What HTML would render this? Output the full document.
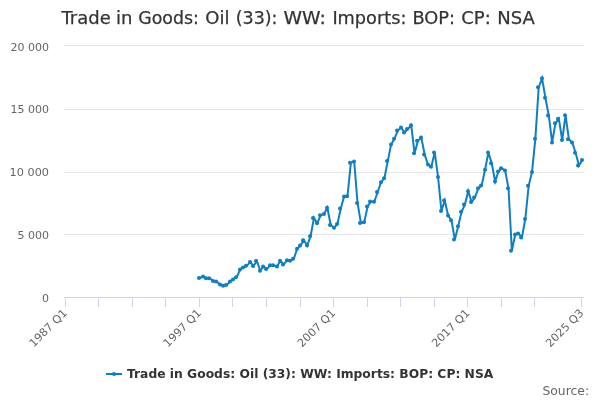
<!DOCTYPE html>
<html><head><meta charset="utf-8"><title>Trade in Goods: Oil (33): WW: Imports: BOP: CP: NSA</title>
<style>
html,body{margin:0;padding:0;background:#fff;}
svg{display:block;font-family:"DejaVu Sans","Liberation Sans",sans-serif;}
</style></head><body>
<svg width="600" height="400" viewBox="0 0 600 400">
<rect x="0" y="0" width="600" height="400" fill="#ffffff"/>
<g stroke="#e6e6e6" stroke-width="1" fill="none"><path d="M64 45.5H584"/><path d="M64 109.5H584"/><path d="M64 172.5H584"/><path d="M64 234.5H584"/></g>
<g stroke="#ccd6eb" stroke-width="1" fill="none"><path d="M64 297.5H584"/><path d="M65.5 297v10M98.5 297v10M132.5 297v10M165.5 297v10M199.5 297v10M232.5 297v10M266.5 297v10M300.5 297v10M333.5 297v10M367.5 297v10M400.5 297v10M434.5 297v10M467.5 297v10M501.5 297v10M534.5 297v10M581.5 297v10"/></g>
<text y="24" font-size="18" fill="#333333" stroke="#333333" stroke-width="0.25"><tspan x="61.50">Trade</tspan> <tspan x="116.10">in</tspan> <tspan x="138.25" textLength="60.6" lengthAdjust="spacingAndGlyphs">Goods:</tspan> <tspan x="205.30">Oil</tspan> <tspan x="235.80" textLength="41.7" lengthAdjust="spacingAndGlyphs">(33):</tspan> <tspan x="283.50" textLength="42.4" lengthAdjust="spacingAndGlyphs">WW:</tspan> <tspan x="332.40" textLength="74.0" lengthAdjust="spacingAndGlyphs">Imports:</tspan> <tspan x="412.40" textLength="42.6" lengthAdjust="spacingAndGlyphs">BOP:</tspan> <tspan x="461.30">CP:</tspan> <tspan x="497.30">NSA</tspan></text>
<g font-size="11" fill="#666666" text-anchor="end">
<text x="49" y="51">20 000</text>
<text x="49" y="113">15 000</text>
<text x="49" y="176" textLength="39.4" lengthAdjust="spacingAndGlyphs">10 000</text>
<text x="49" y="239">5 000</text>
<text x="49" y="302">0</text>
</g>
<g font-size="11" fill="#666666" text-anchor="end"><text transform="translate(67.7,313.6) rotate(-45)" textLength="48.2" lengthAdjust="spacingAndGlyphs">1987 Q1</text><text transform="translate(201.9,313.6) rotate(-45)" textLength="48.2" lengthAdjust="spacingAndGlyphs">1997 Q1</text><text transform="translate(336.1,313.6) rotate(-45)" textLength="48.2" lengthAdjust="spacingAndGlyphs">2007 Q1</text><text transform="translate(470.3,313.6) rotate(-45)" textLength="48.2" lengthAdjust="spacingAndGlyphs">2017 Q1</text><text transform="translate(584.3,313.6) rotate(-45)" textLength="48.2" lengthAdjust="spacingAndGlyphs">2025 Q3</text></g>
<path d="M199.87 278.00L203.23 276.50L206.58 278.20L209.94 278.20L213.29 281.00L216.65 281.50L220.00 284.50L223.35 285.80L226.71 285.00L230.06 281.50L233.42 279.50L236.77 277.20L240.13 269.50L243.48 267.50L246.84 265.80L250.19 262.00L253.55 266.00L256.90 261.00L260.26 270.80L263.61 266.50L266.97 269.00L270.32 265.20L273.68 265.20L277.03 266.50L280.39 260.80L283.74 264.50L287.10 260.20L290.45 260.80L293.81 258.80L297.16 248.80L300.52 245.50L303.87 240.20L307.23 245.50L310.58 236.20L313.94 218.00L317.29 223.30L320.65 215.20L324.00 214.00L327.35 207.70L330.71 225.00L334.06 227.80L337.42 224.00L340.77 208.60L344.13 196.50L347.48 196.30L350.84 162.80L354.19 161.60L357.55 203.00L360.90 223.00L364.26 222.20L367.61 206.50L370.97 201.50L374.32 201.80L377.68 192.00L381.03 182.20L384.39 178.30L387.74 161.10L391.10 144.50L394.45 138.80L397.81 130.50L401.16 127.50L404.52 132.50L407.87 129.00L411.23 125.30L414.58 153.30L417.94 140.80L421.29 137.50L424.65 154.50L428.00 164.50L431.35 166.70L434.71 152.40L438.06 177.00L441.42 211.00L444.77 200.50L448.13 215.50L451.48 220.30L454.84 239.50L458.19 226.20L461.55 211.80L464.90 204.60L468.26 191.20L471.61 202.00L474.97 197.50L478.32 188.20L481.68 185.40L485.03 169.80L488.39 152.50L491.74 163.30L495.10 181.50L498.45 171.50L501.81 168.20L505.16 170.50L508.52 188.30L511.87 250.80L515.23 234.50L518.58 233.50L521.94 237.50L525.29 219.00L528.65 185.80L532.00 172.00L535.35 138.80L538.71 87.20L542.06 78.30L545.42 97.80L548.77 115.50L552.13 142.50L555.48 123.20L558.84 118.70L562.19 140.00L565.55 115.30L568.90 139.20L572.26 142.50L575.61 152.80L578.97 165.50L582.32 160.00" stroke="#0f7fc4" stroke-width="2" fill="none"/>
<g fill="#0f7fc4"><circle cx="199" cy="278.00" r="2"/><circle cx="203" cy="276.50" r="2"/><circle cx="206" cy="278.20" r="2"/><circle cx="209" cy="278.20" r="2"/><circle cx="213" cy="281.00" r="2"/><circle cx="216" cy="281.50" r="2"/><circle cx="220" cy="284.50" r="2"/><circle cx="223" cy="285.80" r="2"/><circle cx="226" cy="285.00" r="2"/><circle cx="230" cy="281.50" r="2"/><circle cx="233" cy="279.50" r="2"/><circle cx="236" cy="277.20" r="2"/><circle cx="240" cy="269.50" r="2"/><circle cx="243" cy="267.50" r="2"/><circle cx="246" cy="265.80" r="2"/><circle cx="250" cy="262.00" r="2"/><circle cx="253" cy="266.00" r="2"/><circle cx="256" cy="261.00" r="2"/><circle cx="260" cy="270.80" r="2"/><circle cx="263" cy="266.50" r="2"/><circle cx="266" cy="269.00" r="2"/><circle cx="270" cy="265.20" r="2"/><circle cx="273" cy="265.20" r="2"/><circle cx="277" cy="266.50" r="2"/><circle cx="280" cy="260.80" r="2"/><circle cx="283" cy="264.50" r="2"/><circle cx="287" cy="260.20" r="2"/><circle cx="290" cy="260.80" r="2"/><circle cx="293" cy="258.80" r="2"/><circle cx="297" cy="248.80" r="2"/><circle cx="300" cy="245.50" r="2"/><circle cx="303" cy="240.20" r="2"/><circle cx="307" cy="245.50" r="2"/><circle cx="310" cy="236.20" r="2"/><circle cx="313" cy="218.00" r="2"/><circle cx="317" cy="223.30" r="2"/><circle cx="320" cy="215.20" r="2"/><circle cx="324" cy="214.00" r="2"/><circle cx="327" cy="207.70" r="2"/><circle cx="330" cy="225.00" r="2"/><circle cx="334" cy="227.80" r="2"/><circle cx="337" cy="224.00" r="2"/><circle cx="340" cy="208.60" r="2"/><circle cx="344" cy="196.50" r="2"/><circle cx="347" cy="196.30" r="2"/><circle cx="350" cy="162.80" r="2"/><circle cx="354" cy="161.60" r="2"/><circle cx="357" cy="203.00" r="2"/><circle cx="360" cy="223.00" r="2"/><circle cx="364" cy="222.20" r="2"/><circle cx="367" cy="206.50" r="2"/><circle cx="370" cy="201.50" r="2"/><circle cx="374" cy="201.80" r="2"/><circle cx="377" cy="192.00" r="2"/><circle cx="381" cy="182.20" r="2"/><circle cx="384" cy="178.30" r="2"/><circle cx="387" cy="161.10" r="2"/><circle cx="391" cy="144.50" r="2"/><circle cx="394" cy="138.80" r="2"/><circle cx="397" cy="130.50" r="2"/><circle cx="401" cy="127.50" r="2"/><circle cx="404" cy="132.50" r="2"/><circle cx="407" cy="129.00" r="2"/><circle cx="411" cy="125.30" r="2"/><circle cx="414" cy="153.30" r="2"/><circle cx="417" cy="140.80" r="2"/><circle cx="421" cy="137.50" r="2"/><circle cx="424" cy="154.50" r="2"/><circle cx="428" cy="164.50" r="2"/><circle cx="431" cy="166.70" r="2"/><circle cx="434" cy="152.40" r="2"/><circle cx="438" cy="177.00" r="2"/><circle cx="441" cy="211.00" r="2"/><circle cx="444" cy="200.50" r="2"/><circle cx="448" cy="215.50" r="2"/><circle cx="451" cy="220.30" r="2"/><circle cx="454" cy="239.50" r="2"/><circle cx="458" cy="226.20" r="2"/><circle cx="461" cy="211.80" r="2"/><circle cx="464" cy="204.60" r="2"/><circle cx="468" cy="191.20" r="2"/><circle cx="471" cy="202.00" r="2"/><circle cx="474" cy="197.50" r="2"/><circle cx="478" cy="188.20" r="2"/><circle cx="481" cy="185.40" r="2"/><circle cx="485" cy="169.80" r="2"/><circle cx="488" cy="152.50" r="2"/><circle cx="491" cy="163.30" r="2"/><circle cx="495" cy="181.50" r="2"/><circle cx="498" cy="171.50" r="2"/><circle cx="501" cy="168.20" r="2"/><circle cx="505" cy="170.50" r="2"/><circle cx="508" cy="188.30" r="2"/><circle cx="511" cy="250.80" r="2"/><circle cx="515" cy="234.50" r="2"/><circle cx="518" cy="233.50" r="2"/><circle cx="521" cy="237.50" r="2"/><circle cx="525" cy="219.00" r="2"/><circle cx="528" cy="185.80" r="2"/><circle cx="532" cy="172.00" r="2"/><circle cx="535" cy="138.80" r="2"/><circle cx="538" cy="87.20" r="2"/><circle cx="542" cy="78.30" r="2"/><circle cx="545" cy="97.80" r="2"/><circle cx="548" cy="115.50" r="2"/><circle cx="552" cy="142.50" r="2"/><circle cx="555" cy="123.20" r="2"/><circle cx="558" cy="118.70" r="2"/><circle cx="562" cy="140.00" r="2"/><circle cx="565" cy="115.30" r="2"/><circle cx="568" cy="139.20" r="2"/><circle cx="572" cy="142.50" r="2"/><circle cx="575" cy="152.80" r="2"/><circle cx="578" cy="165.50" r="2"/><circle cx="582" cy="160.00" r="2"/></g>
<g>
<path d="M106 374H122" stroke="#0f7fc4" stroke-width="2" fill="none"/>
<circle cx="114" cy="374" r="2" fill="#0f7fc4"/>
<text x="127" y="378" font-size="12" font-weight="bold" fill="#333333" textLength="366.3" lengthAdjust="spacingAndGlyphs">Trade in Goods: Oil (33): WW: Imports: BOP: CP: NSA</text>
</g>
<text x="542.4" y="395" font-size="12" fill="#666666" textLength="46.7" lengthAdjust="spacingAndGlyphs">Source:</text>
</svg>
</body></html>
